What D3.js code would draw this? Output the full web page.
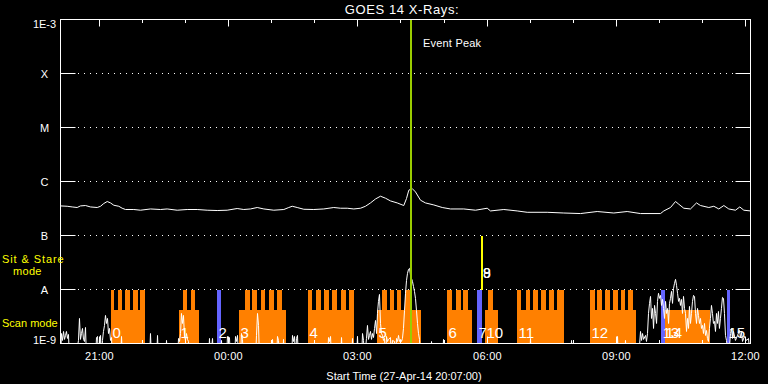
<!DOCTYPE html>
<html><head><meta charset="utf-8">
<script src="https://cdn.jsdelivr.net/npm/d3@7"></script>
<style>
html,body{margin:0;padding:0;background:#000;}
svg{display:block;}
text{font-family:"Liberation Sans",Arial,sans-serif;}
</style></head>
<body>
<svg id="chart" width="768" height="384"></svg>
<script>
// ---------- DATA ----------
const title = "GOES 14 X-Rays:";
const startLabel = "Start Time (27-Apr-14 20:07:00)";
const levelValues = [1e-9, 1e-8, 1e-7, 1e-6, 1e-5, 1e-4, 1e-3];
const levelLabels = ["1E-9", "A", "B", "C", "M", "X", "1E-3"];
// minutes after start (20:07), flux in units of 1e-7 W/m^2 (1-8 A channel)
const longChannel = [[0,3.53],[9.3,3.48],[16.3,3.38],[23.2,3.30],[27.8,3.53],[34.8,3.59],[41.7,3.38],[51.1,3.30],[55.7,3.48],[60.2,3.91],[65,4.26],[69.6,4.01],[74.2,3.63],[81.1,3.48],[85.8,3.20],[90.4,3.03],[102,3.03],[111.3,2.94],[125.2,3.10],[139.1,3.03],[148.4,3.10],[162.4,2.94],[176.3,3.03],[190.2,3.03],[204.1,2.94],[218,2.90],[231.9,2.94],[245.8,3.16],[255,3.03],[264.3,3.10],[273.7,3.30],[282.9,3.10],[296.8,2.94],[310.7,3.03],[317.6,3.30],[322.4,3.48],[329.3,3.30],[338.5,3.06],[352.4,3.03],[366.3,3.10],[380.2,3.30],[389.6,3.20],[398.9,3.20],[408.1,3.10],[417.4,3.20],[424.3,3.48],[431.3,4.01],[438.3,4.75],[445.2,5.34],[452.2,4.90],[459.1,4.37],[468.5,4.01],[477.6,3.59],[481.4,4.84],[484.6,6.90],[489.3,7.41],[493.9,6.41],[500.9,4.50],[507.8,4.01],[519.4,3.68],[531.1,3.30],[542.6,3.10],[561.1,3.10],[577.4,2.94],[593.7,3.20],[598.3,2.85],[616.8,3.03],[635.4,2.85],[649.3,2.69],[677.1,2.69],[700.2,2.61],[723.5,2.55],[746.7,2.78],[769.8,2.61],[788.4,2.78],[806.9,2.55],[834.8,2.55],[839.4,2.85],[848.7,3.30],[855.7,4.26],[860.3,3.79],[867.2,3.20],[876.5,3.10],[884.9,4.01],[890.4,3.59],[902,3.30],[909,3.48],[915.9,3.10],[922.9,3.59],[929.8,3.10],[939.1,2.94],[945.1,3.38],[950.7,2.94],[960,2.85]];
// minutes after start, flux in units of 1e-9 W/m^2 (0.5-4 A channel)
const shortChannel = [[0,0.5],[1.4,1.53],[2.8,1.14],[4.2,1.67],[5.6,1.19],[7.0,1.41],[8.3,1.67],[9.7,1.24],[11.1,1.47],[12.5,0.5],[20.9,0.5],[25.0,1.14],[26.4,2.91],[27.8,1.19],[29.2,1.53],[30.6,1.9],[32.0,1.19],[33.4,1.09],[34.8,1.98],[36.2,0.5],[48.7,0.5],[50.1,1.29],[51.5,1.35],[52.9,0.5],[55.7,1.41],[57.0,0.5],[58.4,1.14],[59.8,1.67],[61.2,2.16],[62.6,3.31],[64.0,2.35],[65.4,2.91],[66.8,1.53],[68.2,1.9],[69.6,1.14],[71.0,1.29],[72.3,0.5],[83.5,0.5],[84.9,1.35],[86.3,0.5],[123.8,0.5],[125.2,1.53],[126.6,0.5],[133.6,0.5],[135.0,1.41],[136.3,0.5],[146.1,0.5],[147.5,1.14],[148.9,0.5],[162.8,0.5],[164.2,1.24],[165.6,1.09],[167.0,1.53],[168.3,3.6],[169.7,2.35],[171.1,3.31],[172.5,1.41],[173.9,1.14],[175.3,1.53],[176.7,1.19],[178.1,1.09],[179.5,0.5],[205.9,0.5],[207.3,1.24],[208.7,0.5],[211.5,1.24],[212.9,0.5],[222.6,0.5],[224,1.14],[225.4,0.5],[231.0,0.5],[232.3,1.35],[233.7,1.14],[235.1,1.29],[236.5,0.5],[242.1,0.5],[243.5,1.35],[244.9,1.09],[246.3,1.41],[247.7,0.5],[250.4,0.5],[251.8,1.53],[253.2,1.19],[254.6,0.5],[271.3,0.5],[272.7,1.41],[274.1,3.6],[275.5,2.16],[276.9,0.5],[293.6,0.5],[295.0,1.19],[296.3,0.5],[300.5,0.5],[301.9,1.35],[303.3,1.14],[304.7,0.5],[308.9,0.5],[310.3,1.19],[311.7,0.5],[321.4,0.5],[322.8,1.41],[324.2,1.09],[325.6,1.35],[327.0,0.5],[328.3,1.24],[329.7,1.41],[331.1,0.5],[371.5,0.5],[372.9,1.29],[374.3,1.09],[375.7,1.35],[377.1,0.5],[389.6,0.5],[391.0,1.29],[392.4,0.5],[404.9,0.5],[406.3,1.24],[407.7,0.5],[411.8,0.5],[413.2,1.35],[414.6,0.5],[418.8,0.5],[420.2,1.53],[421.6,1.14],[423.0,0.5],[425.7,1.24],[427.1,2.16],[428.5,1.19],[429.9,1.41],[431.3,1.67],[432.7,1.19],[434.1,1.53],[435.5,1.29],[436.9,1.9],[438.3,2.67],[439.7,1.53],[441.0,3.6],[442.4,6.02],[443.8,8.11],[445.2,2.35],[446.6,1.53],[448.0,1.41],[449.4,1.14],[450.8,1.24],[452.2,0.5],[453.6,1.35],[455.0,1.09],[456.3,1.19],[459.1,1.29],[460.5,0.5],[461.9,1.14],[464.7,1.09],[466.1,0.5],[467.5,1.24],[468.9,1.09],[470.3,1.41],[471.6,1.09],[473.0,1.19],[474.4,1.09],[475.8,1.24],[477.2,1.9],[478.6,4.09],[480.0,8.49],[481.4,14.7],[482.8,19.9],[484.2,23.6],[485.6,24.6],[487.0,18.3],[488.3,16.1],[489.7,14.1],[491.1,11.4],[492.5,9.23],[493.9,6.85],[495.3,4.09],[496.7,2.35],[498.1,1.53],[499.5,1.19],[500.9,0.5],[514.8,0.5],[516.2,1.09],[517.6,0.5],[531.5,0.5],[532.9,1.19],[534.3,0.5],[652.5,0.5],[653.9,1.24],[655.3,0.5],[709.6,0.5],[711.0,1.14],[712.4,0.5],[773.6,0.5],[775.0,1.35],[776.3,0.5],[784.7,0.5],[786.1,1.14],[787.5,0.5],[804.2,0.5],[807.0,1.67],[808.4,1.14],[809.8,1.53],[811.2,1.19],[814.0,1.41],[815.3,1.09],[816.7,1.53],[818.1,3.6],[819.5,5.53],[820.9,7.44],[822.3,2.91],[823.7,4.46],[825.1,1.9],[826.5,5.07],[827.9,3.6],[829.3,2.35],[830.6,6.02],[832.0,8.49],[833.4,6.85],[834.8,7.77],[836.2,5.07],[837.6,6.55],[839.0,4.46],[840.4,2.91],[841.8,6.02],[843.2,3.6],[844.6,4.46],[846.0,2.35],[847.3,5.53],[848.7,6.85],[850.1,9.23],[851.5,5.53],[852.9,10.5],[854.3,13.0],[855.7,15.4],[857.1,11.9],[858.5,8.49],[859.9,6.02],[861.3,6.85],[862.6,5.07],[864.0,6.55],[865.4,3.6],[866.8,7.44],[868.2,4.46],[869.6,3.6],[871.0,1.67],[872.4,2.91],[873.8,1.9],[875.1,4.86],[876.5,2.35],[877.9,3.6],[879.3,6.02],[880.7,7.77],[882.1,7.44],[883.5,3.6],[884.9,2.35],[886.3,4.46],[887.6,3.31],[889.0,2.35],[890.4,2.91],[891.8,1.9],[893.2,2.16],[894.6,1.53],[896.0,2.35],[897.4,1.41],[898.8,1.74],[900.1,1.24],[901.5,1.09],[902.9,1.9],[904.3,2.91],[905.7,5.07],[907.1,3.6],[908.5,2.35],[909.9,2.56],[911.3,1.67],[912.7,3.6],[914.0,2.35],[915.4,3.92],[916.8,1.9],[918.2,2.91],[919.6,4.46],[921.0,7.14],[922.4,6.85],[923.8,3.6],[925.2,1.41],[926.6,1.14],[929.4,0.5],[932.2,1.53],[933.5,1.9],[934.9,1.24],[936.3,1.67],[939.1,1.14],[941.9,1.41],[944.7,1.74],[946.1,1.29],[947.5,1.6],[948.9,1.09],[951.6,1.35],[954.4,1.14],[957.2,1.24],[960,0.5]];
// observations: id, start/end (minutes after start), mode
const obsIds   = ["0","1","2","3","4","5","6","7","8","9","10","11","12","13","14","15"];
const obsStart = [70,165,218,249,344,441,538,580,586,586,590,635,736,835,840,927];
const obsEnd   = [118,193,223,314,409,501,572,586,586,586,608,701,801,841,904,931];
const obsMode  = ["scan","scan","point","scan","scan","scan","scan","point","stare","stare","scan","scan","scan","point","scan","point"];
// raster (high) segments within scan blocks, minutes after start
const rasterStart = [70,80,90,101,111,170,181,256,267,279,290,301,344,356,367,378,390,401,447,458,468,479,538,550,560,595,635,647,658,669,680,691,736,747,757,768,780,789];
const rasterEnd   = [75,86,97,108,118,176,187,263,274,285,297,308,350,362,373,385,397,409,454,464,474,486,545,557,567,602,641,653,664,675,686,701,743,754,764,775,786,796];
const scanLevel = 4.15e-9, rasterLevel = 1e-8, stareTop = 1e-7;
const eventPeak = 488; // minutes after start
const eventLabel = "Event Peak";

// ---------- SCALES ----------
const t0 = new Date(2014, 3, 27, 20, 7);
const T = m => new Date(t0.getTime() + m * 60000);
const x = d3.scaleTime().domain([T(0), T(960)]).range([60.5, 750.5]);
const y = d3.scaleLog().domain([1e-9, 1e-3]).range([343.5, 19.5]);
const L = x.range()[0], R = x.range()[1], B = y.range()[0], Tp = y.range()[1];

const svg = d3.select("#chart");
svg.append("rect").attr("width",768).attr("height",384).attr("fill","#000");
svg.append("defs").append("clipPath").attr("id","clip").append("rect")
  .attr("x",L).attr("y",Tp).attr("width",R-L).attr("height",B-Tp);
const plot = svg.append("g").attr("clip-path","url(#clip)");

const ORANGE = "#ff8000", BLUE = "#6464ff", YELLOW = "#ffff00", GREEN = "#9acd00";
const rx = m => Math.round(x(T(m)));
const ry = v => Math.round(y(v));

// scan blocks
obsIds.forEach((id,i)=>{
  if (obsMode[i] === "scan") {
    plot.append("rect").attr("x",rx(obsStart[i])).attr("width",rx(obsEnd[i])-rx(obsStart[i]))
      .attr("y",ry(scanLevel)).attr("height",ry(1e-9)-ry(scanLevel)).attr("fill",ORANGE);
  }
});
rasterStart.forEach((s,i)=>{
  plot.append("rect").attr("x",rx(s)).attr("width",rx(rasterEnd[i])-rx(s))
    .attr("y",ry(rasterLevel)).attr("height",ry(scanLevel)-ry(rasterLevel)+1).attr("fill",ORANGE);
});
obsIds.forEach((id,i)=>{
  if (obsMode[i] === "point") {
    plot.append("rect").attr("x",rx(obsStart[i])).attr("width",Math.max(3,rx(obsEnd[i])-rx(obsStart[i])))
      .attr("y",ry(rasterLevel)).attr("height",ry(1e-9)-ry(rasterLevel)).attr("fill",BLUE);
  }
  if (obsMode[i] === "stare") {
    plot.append("rect").attr("x",rx(obsStart[i])-1).attr("width",2)
      .attr("y",ry(stareTop)).attr("height",ry(rasterLevel)-ry(stareTop)).attr("fill",YELLOW);
  }
});

// gridlines
levelValues.slice(1,-1).forEach(v=>{
  const yy = y(v);
  svg.append("line").attr("x1",L).attr("x2",L+15).attr("y1",yy).attr("y2",yy).attr("stroke","#fff");
  svg.append("line").attr("x1",R-15).attr("x2",R).attr("y1",yy).attr("y2",yy).attr("stroke","#fff");
  svg.append("line").attr("x1",78).attr("x2",R-15).attr("y1",yy).attr("y2",yy)
    .attr("stroke","#fff").attr("stroke-dasharray","1 5");
});

// curves
const line = d3.line().x(d=>x(T(d[0]))).y(d=>y(d[1]));
plot.append("path").datum(longChannel.map(d=>[d[0], d[1]*1e-7])).attr("d",line)
  .attr("fill","none").attr("stroke","#fff").attr("stroke-width",1);
plot.append("path").datum(shortChannel.map(d=>[d[0], d[1]*1e-9])).attr("d",line)
  .attr("fill","none").attr("stroke","#fff").attr("stroke-width",1);

// event peak line
plot.append("rect").attr("x",rx(eventPeak)-1).attr("width",2).attr("y",Tp).attr("height",B-Tp).attr("fill",GREEN);
svg.append("text").attr("x",rx(eventPeak)+12).attr("y",47).attr("fill","#fff")
  .attr("font-size",11).attr("letter-spacing",0.2).text(eventLabel);

// observation labels
obsIds.forEach((id,i)=>{
  if (obsMode[i] === "stare") {
    svg.append("text").attr("x",rx(obsStart[i])+1).attr("y",ry(rasterLevel)-12)
      .attr("fill","#fff").attr("font-size",14).text(id);
  } else {
    svg.append("text").attr("x",rx(obsStart[i])+1.5).attr("y",338)
      .attr("fill","#fff").attr("font-size",15).text(id);
  }
});

// frame
svg.append("rect").attr("x",L).attr("y",Tp).attr("width",R-L).attr("height",B-Tp)
  .attr("fill","none").attr("stroke","#fff");

// time ticks
const hours = x.ticks(d3.timeHour.every(1));
hours.forEach(h=>{
  const xx = Math.round(x(h))+0.5;
  const major = h.getHours() % 3 === 0;
  const len = major ? 7 : 3.5;
  svg.append("line").attr("x1",xx).attr("x2",xx).attr("y1",Tp).attr("y2",Tp+len).attr("stroke","#fff");
  svg.append("line").attr("x1",xx).attr("x2",xx).attr("y1",B).attr("y2",B-len).attr("stroke","#fff");
  if (major) {
    svg.append("text").attr("x",xx).attr("y",360).attr("text-anchor","middle")
      .attr("fill","#fff").attr("font-size",11).attr("letter-spacing",0.3).text(d3.timeFormat("%H:%M")(h));
  }
});

// y labels (end labels kept inside the axis span)
levelValues.forEach((v,i)=>{
  let yy = y(v) + 4;
  if (i === 0) yy = y(v);
  if (i === levelValues.length - 1) yy = y(v) + 8;
  svg.append("text").attr("x",44.5).attr("y",yy).attr("text-anchor","middle")
    .attr("fill","#fff").attr("font-size",11).text(levelLabels[i]);
});

// titles
svg.append("text").attr("x",402).attr("y",14).attr("text-anchor","middle").attr("fill","#fff")
  .attr("font-size",13).attr("letter-spacing",0.6).text(title);
svg.append("text").attr("x",404).attr("y",380).attr("text-anchor","middle").attr("fill","#fff")
  .attr("font-size",11).text(startLabel);

// mode labels
svg.append("text").attr("x",2).attr("y",263).attr("fill",YELLOW).attr("font-size",11).attr("letter-spacing",0.9).text("Sit & Stare");
svg.append("text").attr("x",13).attr("y",275).attr("fill",YELLOW).attr("font-size",11).attr("letter-spacing",0.3).text("mode");
svg.append("text").attr("x",2).attr("y",327).attr("fill",YELLOW).attr("font-size",11).text("Scan mode");
</script>
</body></html>
